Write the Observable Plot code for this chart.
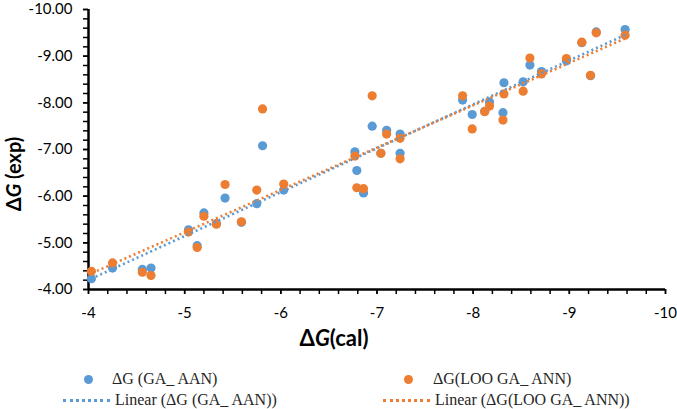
<!DOCTYPE html>
<html>
<head>
<meta charset="utf-8">
<script src="https://cdn.jsdelivr.net/npm/d3@7"></script>
<script src="https://cdn.jsdelivr.net/npm/@observablehq/plot@0.6"></script>
<style>
  body { margin: 0; background: #fff; width: 677px; height: 409px; overflow: hidden; }
  #chart { position: relative; width: 677px; height: 409px; }
  #legend { position: absolute; left: 0; top: 355px; width: 677px; height: 54px; font-family: "Liberation Serif", "Times New Roman", serif; font-size: 16px; color: #262626; }
  .li { position: absolute; white-space: nowrap; line-height: 18px; }
  .dot { position: absolute; width: 9px; height: 9px; border-radius: 50%; }
  .dash { position: absolute; height: 0; border-top: 3px dotted; }
</style>
</head>
<body>
<div id="chart"></div>
<script>
// ΔG(cal) values (shared x)
const calValues = [-4.03,-4.25,-4.56,-4.65,-5.04,-5.13,-5.20,-5.33,-5.42,-5.59,-5.75,-5.81,-6.03,-6.77,-6.79,-6.86,-6.95,-7.04,-7.10,-7.24,-7.24,-7.89,-7.99,-8.12,-8.17,-8.32,-8.31,-8.52,-8.59,-8.71,-8.97,-9.13,-9.22,-9.28,-9.58];
// ΔG (GA_ AAN)
const expGA = [-4.23,-4.46,-4.43,-4.46,-5.28,-4.94,-5.64,-5.41,-5.96,-5.44,-5.84,-7.08,-6.13,-6.95,-6.55,-6.07,-7.50,-6.92,-7.41,-7.33,-6.92,-8.06,-7.75,-7.82,-8.02,-8.43,-7.79,-8.45,-8.81,-8.67,-8.90,-9.29,-8.58,-9.52,-9.57];
// ΔG(LOO GA_ ANN)
const expLOO = [-4.39,-4.57,-4.37,-4.30,-5.23,-4.90,-5.57,-5.40,-6.25,-5.45,-6.13,-7.87,-6.26,-6.86,-6.18,-6.16,-8.15,-6.92,-7.33,-7.24,-6.80,-8.15,-7.44,-7.81,-7.93,-8.19,-7.63,-8.25,-8.96,-8.62,-8.95,-9.30,-8.59,-9.50,-9.45];
const xTicks = [-4,-5,-6,-7,-8,-9,-10];
const yTicks = [-4,-5,-6,-7,-8,-9,-10];
const seriesNames = ["ΔG (GA_ AAN)", "ΔG(LOO GA_ ANN)"];
const trendNames = ["Linear (ΔG (GA_ AAN))", "Linear (ΔG(LOO GA_ ANN))"];

const BLUE = "#5B9BD5", ORANGE = "#ED7D31";
const dataA = calValues.map((x, i) => ({x, y: expGA[i]}));
const dataB = calValues.map((x, i) => ({x, y: expLOO[i]}));
const minorX = d3.range(0, 31).map(i => -4 - i * 0.2);
const minorY = d3.range(0, 31).map(i => -4 - i * 0.2);

// least-squares trendline evaluated at the data's x extent
function trend(data) {
  const mx = d3.mean(data, d => d.x), my = d3.mean(data, d => d.y);
  const sxy = d3.sum(data, d => (d.x - mx) * (d.y - my));
  const sxx = d3.sum(data, d => (d.x - mx) ** 2);
  const b = sxy / sxx, a = my - b * mx;
  return d3.extent(data, d => d.x).map(x => ({x, y: a + b * x}));
}
const trendA = trend(dataA), trendB = trend(dataB);

const W = 677, H = 355;
const plot = Plot.plot({
  width: W, height: H,
  marginLeft: 88, marginRight: 12, marginTop: 9, marginBottom: H - 289,
  style: {fontFamily: "Lato, 'Open Sans', sans-serif", fontSize: "15px", color: "#000", background: "transparent", overflow: "visible"},
  x: {domain: [-4, -10]},
  y: {domain: [-4, -10]},
  marks: [
    Plot.axisX(minorX, {tickSize: 5, tickFormat: () => "", stroke: "#000", strokeWidth: 1.5, label: null}),
    Plot.axisX(xTicks, {tickSize: 5, tickPadding: 13, tickFormat: d => String(d), stroke: "#000", strokeWidth: 1.5, label: null, fill: "#000"}),
    Plot.axisY(minorY, {tickSize: 5, tickFormat: () => "", stroke: "#000", strokeWidth: 1.5, label: null}),
    Plot.axisY(yTicks, {tickSize: 5, tickPadding: 11, tickFormat: d => d.toFixed(2), stroke: "#000", strokeWidth: 1.5, label: null, fill: "#000"}),
    Plot.ruleX([-4], {stroke: "#000", strokeWidth: 2.5}),
    Plot.ruleY([-4], {stroke: "#000", strokeWidth: 2.5}),
    Plot.dot(dataA, {x: "x", y: "y", r: 4.6, fill: BLUE, stroke: "none"}),
    Plot.dot(dataB, {x: "x", y: "y", r: 4.6, fill: ORANGE, stroke: "none"}),
    Plot.line(trendA, {x: "x", y: "y", stroke: BLUE, strokeWidth: 2.6, strokeDasharray: "2 3", strokeLinecap: "butt"}),
    Plot.line(trendB, {x: "x", y: "y", stroke: ORANGE, strokeWidth: 2.6, strokeDasharray: "2 3", strokeLinecap: "butt"})
  ]
});
document.getElementById("chart").appendChild(plot);

const svg = d3.select(plot);
// y axis title
const yt = svg.append("text")
  .attr("transform", "translate(21,174) rotate(-90)")
  .attr("text-anchor", "middle")
  .attr("font-family", "Lato, 'Open Sans', sans-serif")
  .attr("font-weight", "bold").attr("font-size", 20).attr("fill", "#000");
yt.append("tspan").text("Δ");
yt.append("tspan").attr("font-style", "italic").text("G");
yt.append("tspan").text(" (exp)");
// x axis title
const xt = svg.append("text")
  .attr("x", 334).attr("y", 346)
  .attr("text-anchor", "middle")
  .attr("font-family", "Lato, 'Open Sans', sans-serif")
  .attr("font-weight", "bold").attr("font-size", 22).attr("fill", "#000");
xt.append("tspan").text("Δ");
xt.append("tspan").attr("font-style", "italic").text("G");
xt.append("tspan").text("(cal)");

// legend
const legend = d3.select("#chart").append("div").attr("id", "legend");
const items = [
  {kind: "dot", color: BLUE, mx: 84, tx: 112, y: 24, text: seriesNames[0]},
  {kind: "dot", color: ORANGE, mx: 404, tx: 433, y: 24, text: seriesNames[1]},
  {kind: "dash", color: BLUE, mx: 63, mw: 47, tx: 115, y: 45, text: trendNames[0]},
  {kind: "dash", color: ORANGE, mx: 383, mw: 47, tx: 435, y: 45, text: trendNames[1]}
];
items.forEach(it => {
  if (it.kind === "dot") {
    legend.append("div").attr("class", "dot")
      .style("left", it.mx + "px").style("top", (it.y - 4.5) + "px").style("background", it.color);
  } else {
    legend.append("div").attr("class", "dash")
      .style("left", it.mx + "px").style("top", (it.y - 1.5) + "px").style("width", it.mw + "px").style("border-color", it.color);
  }
  legend.append("div").attr("class", "li")
    .style("left", it.tx + "px").style("top", (it.y - 9) + "px").text(it.text);
});
</script>
</body>
</html>
